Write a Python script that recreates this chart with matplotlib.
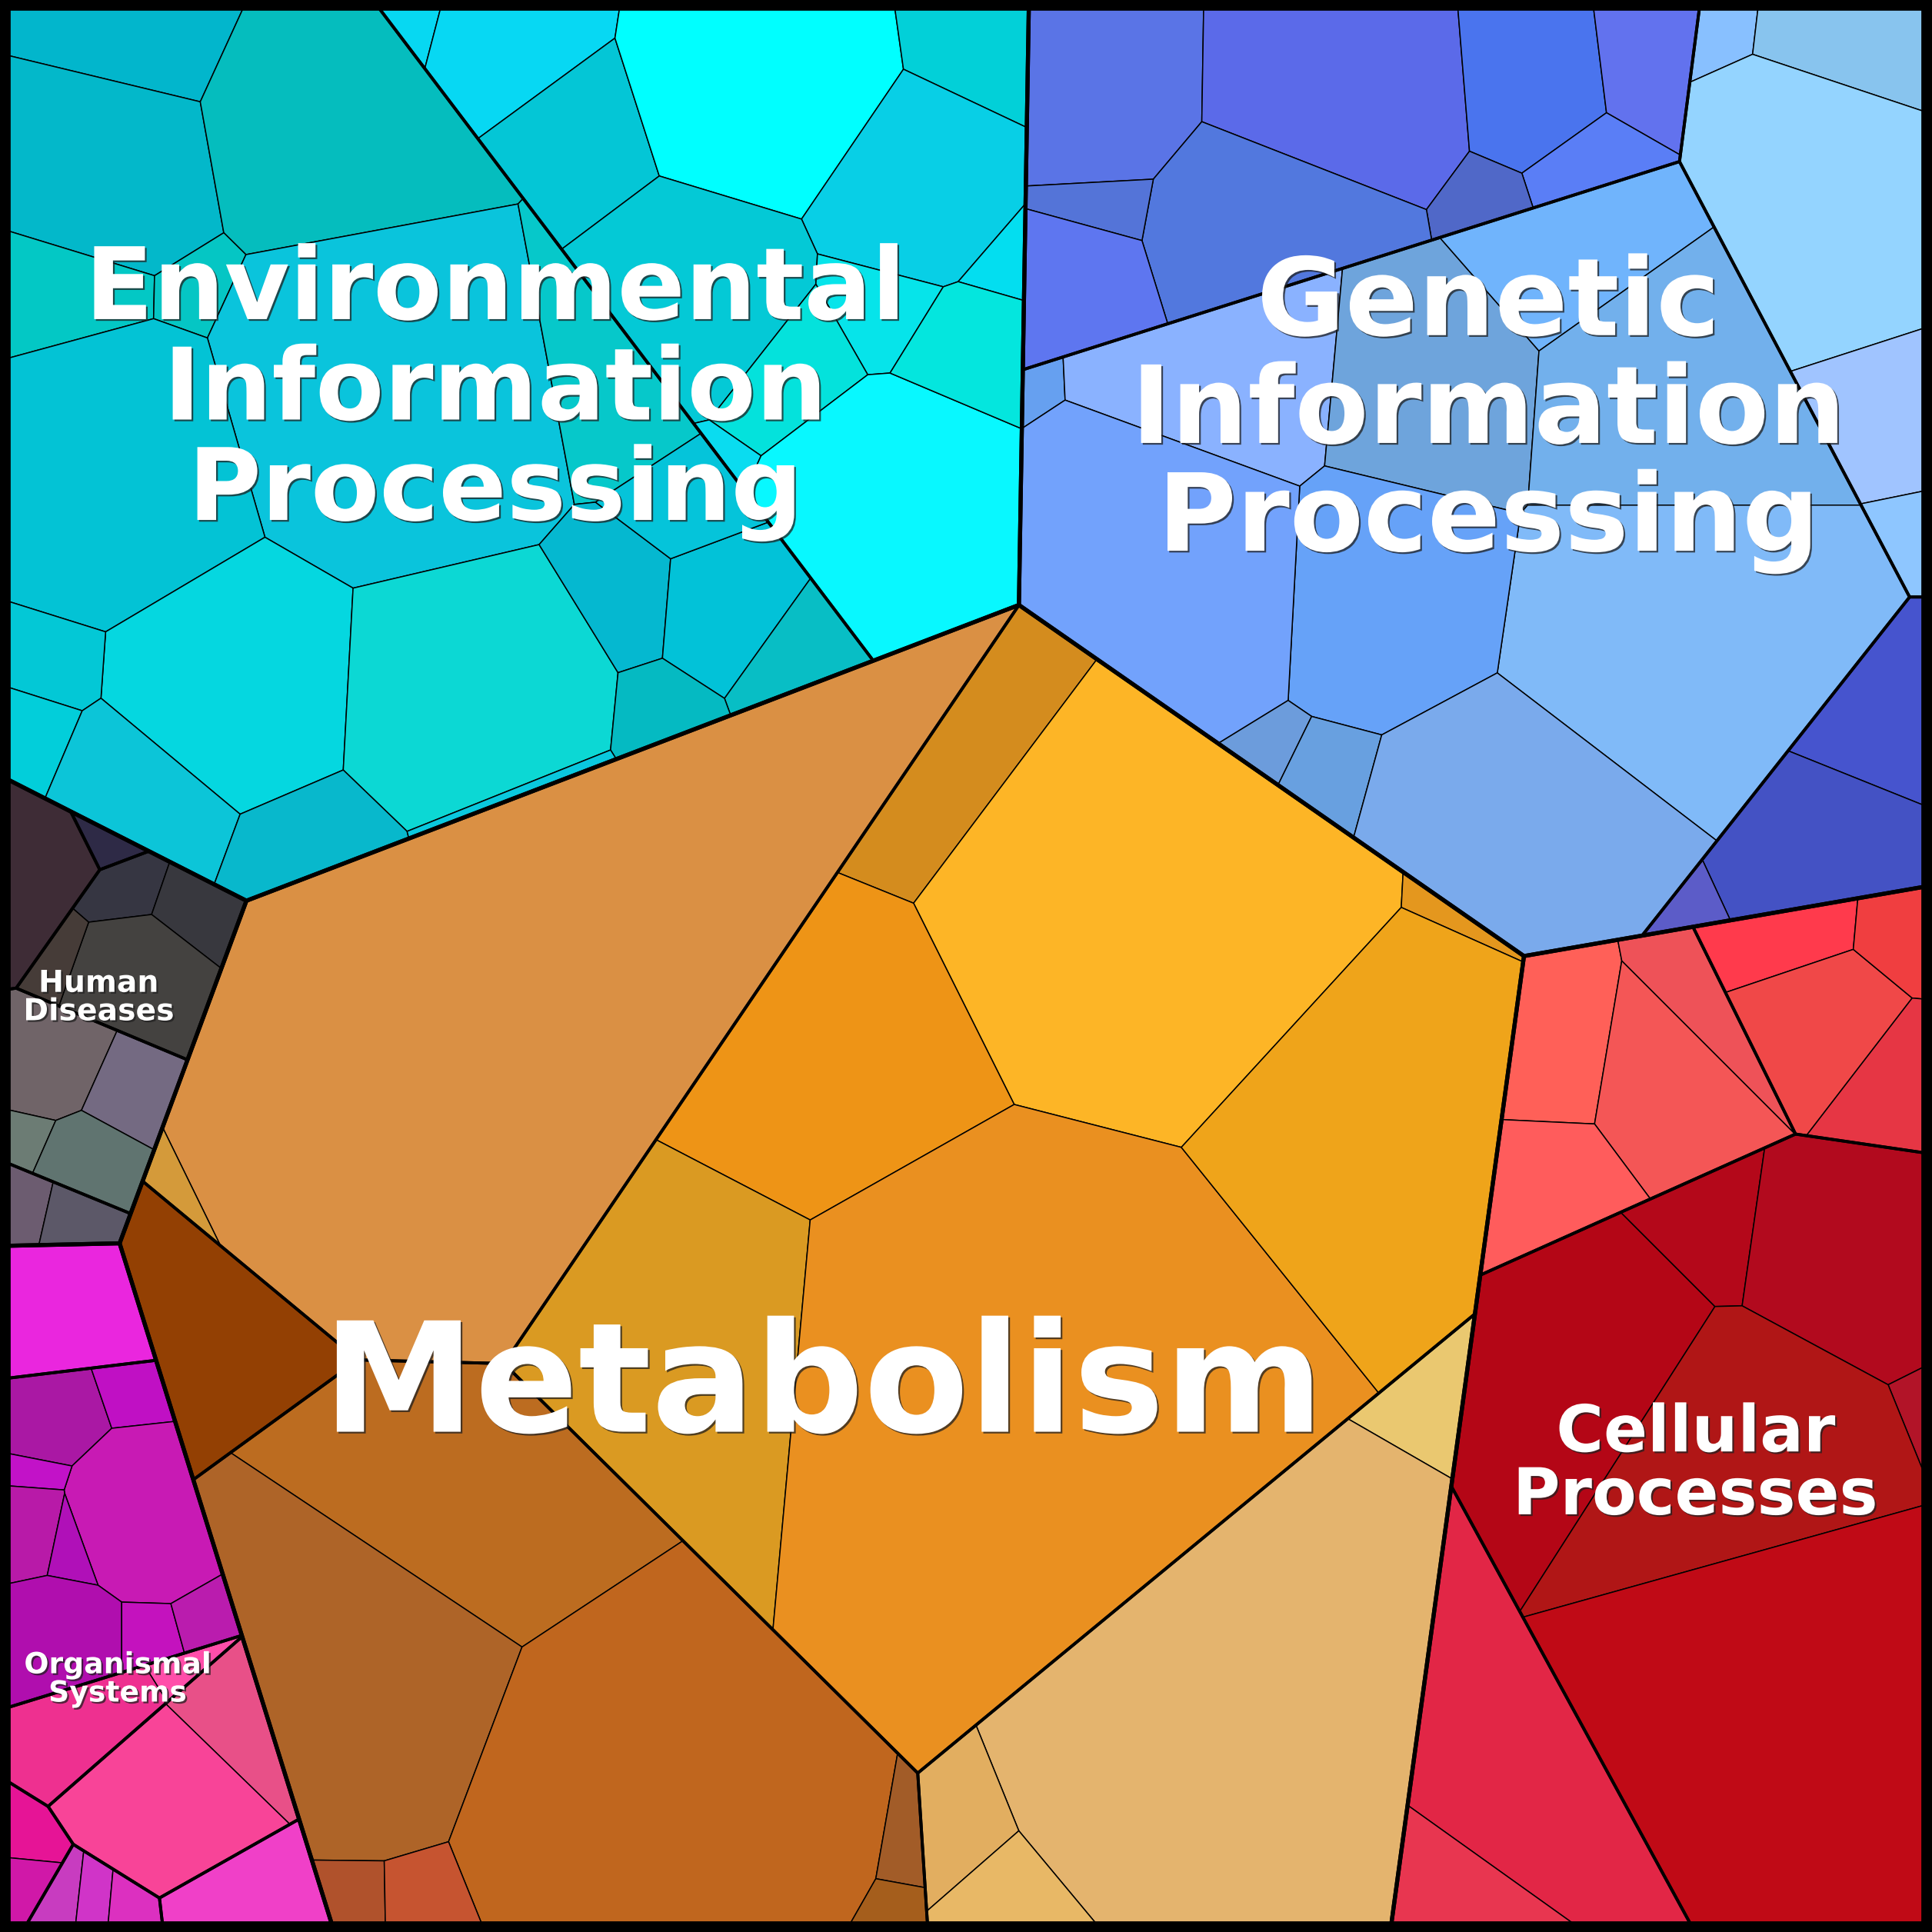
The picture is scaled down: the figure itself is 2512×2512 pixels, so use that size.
import numpy as np
import matplotlib
matplotlib.use("Agg")
import matplotlib.pyplot as plt
from matplotlib.patches import Polygon, Rectangle
import matplotlib.patheffects as pe

# ---------------- layout space (units of a 1568 x 1568 canvas) ----------------
CANVAS = 1568.0
LO, HI = 7.0, 1561.0

# ---------------- level 1: categories ----------------
categories = ["Environmental Information Processing", "Genetic Information Processing",
              "Metabolism", "Human Diseases", "Organismal Systems", "Cellular Processes"]
category_values = [510.9, 495.0, 957.2, 48.9, 97.1, 305.8]
category_seed_x = [390.0, 1200.0, 681.0, 111.0, 119.5, 1345.0]
category_seed_y = [300.0, 313.4, 1060.0, 849.0, 1235.0, 1151.0]

# ---------------- level 2: groups ----------------
group_names = ["EnvA", "EnvB",
               "GenB", "GenC", "GenD", "GenH",
               "MetA", "MetB", "MetC", "MetD", "MetE",
               "HD0", "HD1", "HD2", "HD3", "HD4",
               "OrgA", "OrgB", "OrgC", "OrgD", "OrgE", "OrgF", "OrgG",
               "CelA", "CelB", "CelC", "CelD"]
group_category = [0, 0,
                  1, 1, 1, 1,
                  2, 2, 2, 2, 2,
                  3, 3, 3, 3, 3,
                  4, 4, 4, 4, 4, 4, 4,
                  5, 5, 5, 5]
group_seed_x = [260, 631,
                1050, 1134, 1520, 1520,
                399, 79, 379, 860, 1216,
                42, 84, 110, 64, 25,
                37, 58.7, 108, 150, 28, 80.5, 204.8,
                1280, 1480, 1420, 1226]
group_seed_y = [400, 119,
                120, 385, 181, 690,
                647, 1033, 1446, 960, 1392,
                732, 711, 780, 890, 985,
                1062, 1242, 1402, 1450, 1531, 1561.6, 1547,
                900, 801, 1213, 1319]

# ---------------- level 3: pathways (id, group, value, seed x, seed y, colour) ----------------
env_cells = [
    ("env01", "EnvA", 10.1, 112, 28, "#02B6CC"),
    ("env02", "EnvA", 23.3, 85, 140, "#03B8CA"),
    ("env03", "EnvA", 35.6, 280, 105, "#05BDBE"),
    ("env04", "EnvA", 8.1, 55, 238, "#03C8C5"),
    ("env05", "EnvA", 3.8, 147, 240, "#05C6C4"),
    ("env06", "EnvA", 68.7, 320, 320, "#0AC4DC"),
    ("env07", "EnvA", 14.9, 480, 290, "#06C8CA"),
    ("env08", "EnvA", 40.0, 95, 385, "#03C3D5"),
    ("env09", "EnvA", 31.3, 190, 545, "#05D7E0"),
    ("env10", "EnvA", 37.5, 375, 555, "#0CD8D4"),
    ("env11", "EnvA", 5.2, 48, 535, "#03C8D6"),
    ("env12", "EnvA", 3.5, 28, 598, "#02CEDA"),
    ("env13", "EnvA", 11.7, 115, 635, "#0CC5D8"),
    ("env14", "EnvA", 9.0, 250, 685, "#08B8CC"),
    ("env15", "EnvA", 8.9, 500, 478, "#05B8D0"),
    ("env16", "EnvA", 10.5, 585, 485, "#02C2D8"),
    ("env17", "EnvA", 5.7, 645, 528, "#08BEC5"),
    ("env18", "EnvA", 7.3, 555, 405, "#05C4DA"),
    ("env32", "EnvA", 4.8, 530, 570, "#05BAC2"),
    ("env33", "EnvA", 1.3, 411, 645, "#0AC8DE"),
    ("env19", "EnvB", 1.2, 337, 22, "#07D8F2"),
    ("env20", "EnvB", 10.2, 425, 45, "#07D8F3"),
    ("env21", "EnvB", 13.2, 480, 120, "#04C6D6"),
    ("env22", "EnvB", 29.3, 620, 75, "#00FFFF"),
    ("env23", "EnvB", 7.5, 797, 50, "#02D0D8"),
    ("env24", "EnvB", 20.8, 745, 160, "#08CFE6"),
    ("env25", "EnvB", 23.8, 570, 240, "#04C9D6"),
    ("env26", "EnvB", 5.6, 722, 248, "#06E4EA"),
    ("env27", "EnvB", 8.1, 640, 295, "#04E2DC"),
    ("env28", "EnvB", 1.2, 597, 357, "#0ADCF0"),
    ("env29", "EnvB", 35.7, 735, 420, "#08F8FF"),
    ("env30", "EnvB", 2.1, 811, 217, "#03DEF0"),
    ("env31", "EnvB", 8.3, 790, 290, "#04E6DE"),
]
gen_cells = [
    ("gen01", "GenB", 18.9, 895, 72, "#5A74E6"),
    ("gen02", "GenB", 27.3, 1080, 75, "#5B6AE9"),
    ("gen03", "GenB", 12.8, 1240, 62, "#4A74EE"),
    ("gen04", "GenB", 7.4, 1337, 50, "#6272EE"),
    ("gen05", "GenB", 4.8, 1290, 132, "#5A7EF6"),
    ("gen06", "GenB", 3.6, 1198, 162, "#5068C8"),
    ("gen07", "GenB", 22.0, 1035, 190, "#5278DE"),
    ("gen08", "GenB", 3.4, 900, 165, "#5474D8"),
    ("gen09", "GenB", 10.5, 880, 238, "#5E76F0"),
    ("gen10", "GenC", 1.4, 851, 312, "#66A0F0"),
    ("gen11", "GenC", 23.4, 1000, 305, "#8AB2FF"),
    ("gen12", "GenC", 28.8, 1165, 320, "#6EA4DC"),
    ("gen13", "GenC", 16.5, 1285, 215, "#70B4FC"),
    ("gen14", "GenC", 38.7, 1370, 335, "#72B0EC"),
    ("gen15", "GenC", 60.3, 1370, 500, "#80BAF8"),
    ("gen16", "GenC", 31.4, 1130, 465, "#66A2F8"),
    ("gen17", "GenC", 44.7, 945, 455, "#72A2FC"),
    ("gen18", "GenC", 2.5, 1036, 603, "#6C9CDC"),
    ("gen19", "GenC", 4.8, 1087, 628, "#68A0E0"),
    ("gen20", "GenC", 40.1, 1240, 670, "#7AAAEC"),
    ("gen21", "GenD", 2.3, 1404, 27, "#88C0FF"),
    ("gen22", "GenD", 8.2, 1515, 40, "#88C4EE"),
    ("gen23", "GenD", 36.9, 1470, 175, "#94D4FF"),
    ("gen24", "GenD", 10.1, 1525, 345, "#A0C4FF"),
    ("gen25", "GenD", 2.6, 1545, 443, "#8EC6FF"),
    ("gen26", "GenH", 9.9, 1525, 570, "#4654CE"),
    ("gen27", "GenH", 16.4, 1480, 682, "#4452C4"),
    ("gen28", "GenH", 1.9, 1372, 732, "#5C5CC8"),
]
met_cells = [
    ("met01", "MetA", 188.1, 430, 820, "#DA9044"),
    ("met02", "MetA", 1.8, 144, 960, "#D49A3A"),
    ("met03", "MetB", 21.4, 165, 1075, "#934003"),
    ("met04", "MetC", 46.1, 385, 1200, "#BC6C20"),
    ("met05", "MetC", 48.2, 285, 1350, "#AE6428"),
    ("met06", "MetC", 79.5, 550, 1450, "#C0661E"),
    ("met07", "MetC", 2.6, 283, 1536, "#B0522C"),
    ("met08", "MetC", 3.9, 340, 1535, "#C65430"),
    ("met09", "MetC", 2.8, 734, 1482, "#A25C28"),
    ("met10", "MetC", 1.7, 722, 1548, "#A55E1C"),
    ("met11", "MetD", 18.0, 777, 620, "#D48C1E"),
    ("met12", "MetD", 91.2, 930, 735, "#FDB526"),
    ("met13", "MetD", 1.7, 1178, 748, "#E4971E"),
    ("met14", "MetD", 44.5, 680, 860, "#EE9416"),
    ("met15", "MetD", 54.7, 555, 1100, "#DA9A22"),
    ("met16", "MetD", 162.0, 830, 1125, "#EA9020"),
    ("met17", "MetD", 62.9, 1110, 900, "#EFA41A"),
    ("met18", "MetE", 6.1, 1147, 1135, "#EAC870"),
    ("met19", "MetE", 102.9, 1000, 1390, "#E4B46E"),
    ("met20", "MetE", 7.1, 778, 1480, "#E2AE60"),
    ("met21", "MetE", 5.5, 826, 1535, "#E8B866"),
]
hd_cells = [
    ("hd01", "HD0", 7.3, 33, 718, "#3E2C36"),
    ("hd02", "HD1", 1.1, 86, 686, "#2E2A46"),
    ("hd03", "HD2", 2.8, 100, 718, "#363642"),
    ("hd04", "HD2", 3.5, 158, 738, "#38383E"),
    ("hd05", "HD2", 9.7, 110, 800, "#444240"),
    ("hd06", "HD2", 2.0, 48, 778, "#463C38"),
    ("hd07", "HD3", 6.5, 40, 855, "#706468"),
    ("hd08", "HD3", 4.7, 107, 885, "#746A82"),
    ("hd09", "HD3", 1.3, 25, 922, "#6C7C74"),
    ("hd10", "HD3", 4.8, 75, 944, "#607470"),
    ("hd11", "HD4", 1.8, 22, 985, "#6C5C70"),
    ("hd12", "HD4", 2.5, 66, 995, "#5C5868"),
]
org_cells = [
    ("org01", "OrgA", 10.5, 58, 1062, "#EA26DE"),
    ("org02", "OrgB", 5.1, 40, 1153, "#AA18A4"),
    ("org03", "OrgB", 2.6, 104, 1131, "#C010C4"),
    ("org04", "OrgB", 13.1, 115, 1232, "#C81AB4"),
    ("org05", "OrgB", 1.1, 30, 1204, "#C212C8"),
    ("org06", "OrgB", 2.8, 27, 1245, "#B81AA8"),
    ("org07", "OrgB", 1.4, 60, 1252, "#B010B8"),
    ("org08", "OrgB", 7.8, 45, 1330, "#B00EAE"),
    ("org09", "OrgB", 2.2, 112, 1330, "#C412BE"),
    ("org10", "OrgB", 2.2, 163, 1316, "#BA1CAE"),
    ("org11", "OrgC", 8.0, 58, 1415, "#EE3090"),
    ("org12", "OrgC", 1.4, 148, 1359, "#FF4EAA"),
    ("org13", "OrgD", 6.3, 190, 1405, "#E85088"),
    ("org14", "OrgD", 15.8, 125, 1472, "#F84498"),
    ("org15", "OrgE", 2.2, 25, 1488, "#E61496"),
    ("org16", "OrgE", 1.5, 20, 1540, "#D018A8"),
    ("org17", "OrgF", 1.5, 45, 1542, "#C83CC0"),
    ("org18", "OrgF", 1.3, 72, 1545, "#D034C8"),
    ("org19", "OrgF", 1.3, 105, 1548, "#DC30C0"),
    ("org20", "OrgG", 6.9, 190, 1535, "#F040C8"),
]
cel_cells = [
    ("cel01", "CelA", 10.9, 1266, 880, "#FF6058"),
    ("cel02", "CelA", 15.5, 1356, 895, "#F45656"),
    ("cel03", "CelA", 6.5, 1396, 855, "#EE5258"),
    ("cel04", "CelA", 10.3, 1262, 965, "#FF5C5C"),
    ("cel05", "CelB", 5.9, 1450, 762, "#FF3A4C"),
    ("cel06", "CelB", 11.9, 1478, 845, "#F04848"),
    ("cel07", "CelB", 3.8, 1540, 770, "#F03E40"),
    ("cel08", "CelB", 6.4, 1530, 885, "#E63644"),
    ("cel09", "CelC", 37.5, 1265, 1125, "#B40616"),
    ("cel10", "CelC", 7.8, 1385, 1005, "#B4081A"),
    ("cel11", "CelC", 23.4, 1490, 1020, "#B20A1E"),
    ("cel12", "CelC", 1.2, 1550, 1140, "#B21428"),
    ("cel13", "CelC", 41.3, 1390, 1205, "#B01616"),
    ("cel14", "CelC", 77.9, 1450, 1420, "#C00A16"),
    ("cel15", "CelD", 35.6, 1268, 1411, "#E22646"),
    ("cel16", "CelD", 7.0, 1183, 1530, "#E83650"),
]
all_cells = env_cells + gen_cells + met_cells + hd_cells + org_cells + cel_cells

# ---------------- labels ----------------
label_lines = [["Environmental", "Information", "Processing"],
               ["Genetic", "Information", "Processing"],
               ["Metabolism"],
               ["Human", "Diseases"],
               ["Organismal", "Systems"],
               ["Cellular", "Processes"]]
label_x = [402, 1208, 668, 80, 95.5, 1376]
label_baseline = [259, 272, 1162, 805, 1358, 1178]
label_step = [81.5, 87.5, 0, 23, 23, 51]
label_size = [93.6, 100.8, 143, 28.3, 27.2, 60.5]


# ---------------- power-diagram (Voronoi treemap) machinery ----------------
def clip_halfplane(verts, labs, a, b, newlab):
    out_v, out_l = [], []
    n = len(verts)
    if n == 0:
        return out_v, out_l
    f = [a[0] * v[0] + a[1] * v[1] - b for v in verts]
    for k in range(n):
        P = verts[k]
        Q = verts[(k + 1) % n]
        fp, fq = f[k], f[(k + 1) % n]
        if fp <= 0:
            out_v.append(P)
            out_l.append(labs[k])
            if fq > 0:
                t = fp / (fp - fq)
                out_v.append((P[0] + t * (Q[0] - P[0]), P[1] + t * (Q[1] - P[1])))
                out_l.append(newlab)
        elif fq <= 0:
            t = fp / (fp - fq)
            out_v.append((P[0] + t * (Q[0] - P[0]), P[1] + t * (Q[1] - P[1])))
            out_l.append(labs[k])
    return out_v, out_l


def power_diagram(region, seeds, w):
    n = len(seeds)
    sq = (seeds ** 2).sum(1)
    cells, labels = [], []
    for i in range(n):
        v = list(region)
        l = [-1] * len(v)
        order = np.argsort(((seeds - seeds[i]) ** 2).sum(1))
        for j in order:
            if j == i:
                continue
            d = seeds[j] - seeds[i]
            a = 2 * d
            b = sq[j] - sq[i] - w[j] + w[i]
            v, l = clip_halfplane(v, l, a, b, int(j))
            if len(v) < 3:
                v, l = [], []
                break
        cells.append(v)
        labels.append(l)
    return cells, labels


def poly_area(v):
    if len(v) < 3:
        return 0.0
    x = np.array([p[0] for p in v])
    y = np.array([p[1] for p in v])
    return 0.5 * abs(np.dot(x, np.roll(y, -1)) - np.dot(y, np.roll(x, -1)))


def fit_power(region, seeds, values, iters=120):
    seeds = np.asarray(seeds, float)
    n = len(seeds)
    if n == 1:
        return [list(region)]
    T = np.asarray(values, float)
    T = T / T.sum() * poly_area(region)
    w = np.zeros(n)
    cells, labs = power_diagram(region, seeds, w)
    A = np.array([poly_area(c) for c in cells])
    for _ in range(iters):
        err = T - A
        if np.max(np.abs(err) / T) < 1e-3:
            break
        empty = A < 1e-6
        if empty.any():
            w[empty] += 2.0 * np.maximum(T[empty], 0.3 * np.median(T)) / np.pi
            cells, labs = power_diagram(region, seeds, w)
            A = np.array([poly_area(c) for c in cells])
            continue
        H = np.zeros((n, n))
        for i in range(n):
            v, l = cells[i], labs[i]
            m = len(v)
            for k in range(m):
                j = l[k]
                if j < 0:
                    continue
                P, Q = v[k], v[(k + 1) % m]
                L = np.hypot(Q[0] - P[0], Q[1] - P[1])
                c = L / (2 * np.linalg.norm(seeds[i] - seeds[j]))
                H[i, j] -= c
                H[i, i] += c
        dw = np.linalg.lstsq(H, err, rcond=None)[0]
        cur = np.abs(err).sum()
        step = 1.0
        while True:
            w2 = w + step * dw
            c2, l2 = power_diagram(region, seeds, w2)
            A2 = np.array([poly_area(c) for c in c2])
            if ((A2 > 1e-6).all() and np.abs(T - A2).sum() < cur) or step < 1e-3:
                break
            step *= 0.5
        w, cells, labs, A = w2, c2, l2, A2
    return cells


# ---------------- compute hierarchy ----------------
square = [(LO, LO), (HI, LO), (HI, HI), (LO, HI)]
cat_polys = fit_power(square, np.c_[category_seed_x, category_seed_y], category_values)

group_values = {g: 0.0 for g in group_names}
for cid, g, val, x, y, col in all_cells:
    group_values[g] += val

group_polys = {}
for c in range(len(categories)):
    gidx = [i for i, gc in enumerate(group_category) if gc == c]
    seeds = [(group_seed_x[i], group_seed_y[i]) for i in gidx]
    vals = [group_values[group_names[i]] for i in gidx]
    polys = fit_power(cat_polys[c], seeds, vals)
    for i, p in zip(gidx, polys):
        group_polys[group_names[i]] = p

cell_polys = []
for g in group_names:
    members = [cell for cell in all_cells if cell[1] == g]
    seeds = [(m[3], m[4]) for m in members]
    vals = [m[2] for m in members]
    polys = fit_power(group_polys[g], seeds, vals)
    for m, p in zip(members, polys):
        cell_polys.append((p, m[5]))

# ---------------- draw ----------------
fig = plt.figure(figsize=(25.12, 25.12), dpi=100)
ax = fig.add_axes([0, 0, 1, 1])
ax.set_xlim(0, CANVAS)
ax.set_ylim(CANVAS, 0)
ax.axis("off")
fig.patch.set_facecolor("white")

for p, col in cell_polys:
    if len(p) >= 3:
        ax.add_patch(Polygon(p, closed=True, facecolor=col, edgecolor="black",
                             linewidth=1.1, zorder=1))
for g in group_names:
    p = group_polys[g]
    if len(p) >= 3:
        ax.add_patch(Polygon(p, closed=True, fill=False, edgecolor="black",
                             linewidth=2.8, zorder=2))
for p in cat_polys:
    if len(p) >= 3:
        ax.add_patch(Polygon(p, closed=True, fill=False, edgecolor="black",
                             linewidth=3.8, zorder=3))
ax.add_patch(Rectangle((0, 0), CANVAS, CANVAS, fill=False, edgecolor="black",
                       linewidth=16, zorder=4))

shadow = [pe.SimplePatchShadow(offset=(1.6, -1.6), shadow_rgbFace="#202020", alpha=0.75),
          pe.Normal()]
for c in range(len(categories)):
    for k, line in enumerate(label_lines[c]):
        ax.text(label_x[c], label_baseline[c] + k * label_step[c], line,
                ha="center", va="baseline", color="white", fontweight="bold",
                fontsize=label_size[c], family="DejaVu Sans", zorder=5,
                path_effects=shadow)

fig.savefig("out.png", dpi=100, facecolor="white")
